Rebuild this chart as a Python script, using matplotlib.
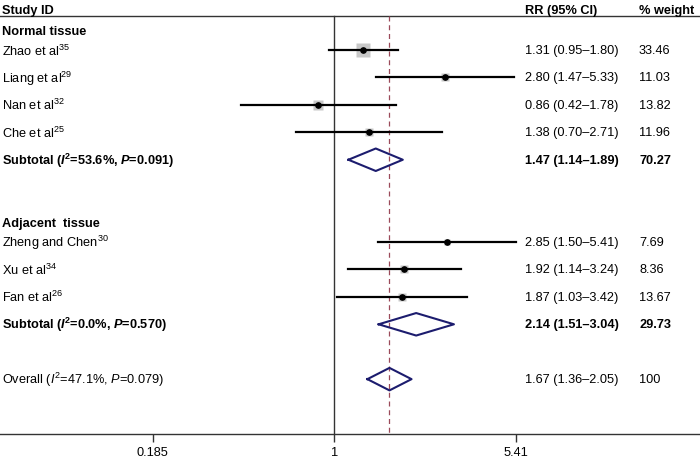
import numpy as np
import matplotlib
matplotlib.use('Agg')
import matplotlib.pyplot as plt
import matplotlib.transforms as mtransforms

plt.rcParams['font.family'] = 'Liberation Sans'
plt.rcParams['font.size'] = 9.2
plt.rcParams['mathtext.fontset'] = 'custom'
plt.rcParams['mathtext.rm'] = 'Liberation Sans'
plt.rcParams['mathtext.it'] = 'Liberation Sans:italic'
plt.rcParams['mathtext.bf'] = 'Liberation Sans:bold'
plt.rcParams['mathtext.bfit'] = 'Liberation Sans:italic:bold'

# Data
studies = ['Zhao et al$^{35}$', 'Liang et al$^{29}$', 'Nan et al$^{32}$', 'Che et al$^{25}$',
           'Zheng and Chen$^{30}$', 'Xu et al$^{34}$', 'Fan et al$^{26}$']
study_rows = [1, 2, 3, 4, 8, 9, 10]
rr = [1.31, 2.80, 0.86, 1.38, 2.85, 1.92, 1.87]
lo = [0.95, 1.47, 0.42, 0.70, 1.50, 1.14, 1.03]
hi = [1.80, 5.33, 1.78, 2.71, 5.41, 3.24, 3.42]
weight = [33.46, 11.03, 13.82, 11.96, 7.69, 8.36, 13.67]

groups = ['Normal tissue', 'Adjacent  tissue']
group_rows = [0.3, 7.3]

pooled_labels = [r'Subtotal ($\mathbfit{I}^{\mathbf{2}}$=53.6%, $\mathbfit{P}$=0.091)',
                 r'Subtotal ($\mathbfit{I}^{\mathbf{2}}$=0.0%, $\mathbfit{P}$=0.570)',
                 r'Overall ($\mathit{I}^{2}$=47.1%, $\mathit{P}$=0.079)']
pooled_rows = [5, 11, 13]
pooled_rr = [1.47, 2.14, 1.67]
pooled_lo = [1.14, 1.51, 1.36]
pooled_hi = [1.89, 3.04, 2.05]
pooled_weight = ['70.27', '29.73', '100']
pooled_bold = [True, True, False]

xticks = [0.185, 1, 5.41]
xticklabels = ['0.185', '1', '5.41']

fig = plt.figure(figsize=(7, 4.6), dpi=100)
ax = fig.add_axes([0, 25 / 460, 1, 435 / 460])
ax.set_xscale('log')
ax.set_xlim(np.exp(-334.3 / 107.6), np.exp((700 - 334.3) / 107.6))
ax.set_ylim(15, -0.861)

for s in ['top', 'left', 'right']:
    ax.spines[s].set_visible(False)
ax.spines['bottom'].set_color('#333333')
ax.spines['bottom'].set_linewidth(1.0)
ax.set_yticks([])
ax.set_xticks(xticks)
ax.set_xticklabels(xticklabels, fontsize=9.2)
ax.xaxis.set_minor_locator(matplotlib.ticker.NullLocator())
ax.tick_params(axis='x', direction='out', length=5.5, width=1.0, color='#333333', pad=3)

top = -0.24
navy = '#1c1c6e'
ax.axhline(top, color='#333333', lw=1.0)
ax.plot([1, 1], [top, 15], color='#333333', lw=1.0)
ax.plot([pooled_rr[2]] * 2, [top, 15], color='#9b4a5a', lw=0.9, dashes=(4, 3))

# study estimates
for r, m, l, h, w in zip(study_rows, rr, lo, hi, weight):
    ax.plot(m, r, marker='s', ms=1.75 * np.sqrt(w), color='#c8c8c8', mec='none', zorder=2)
    ax.plot([l, h], [r, r], color='black', lw=1.6, zorder=3)
    ax.plot(m, r, marker='o', ms=3.8, color='black', zorder=4)

# pooled diamonds
for r, m, l, h in zip(pooled_rows, pooled_rr, pooled_lo, pooled_hi):
    ax.plot([l, m, h, m, l], [r, r - 0.41, r, r + 0.41, r], color=navy, lw=1.5, zorder=4)

# text columns
tr = mtransforms.blended_transform_factory(ax.transAxes, ax.transData)
x_study, x_rr, x_w = 2 / 700, 525 / 700, 639 / 700

ax.text(x_study, -0.47, 'Study ID', transform=tr, fontweight='bold', va='center')
ax.text(x_rr, -0.47, 'RR (95% CI)', transform=tr, fontweight='bold', va='center')
ax.text(x_w, -0.47, '% weight', transform=tr, fontweight='bold', va='center')

for g, r in zip(groups, group_rows):
    ax.text(x_study, r, g, transform=tr, fontweight='bold', va='center')

for s, r, m, l, h, w in zip(studies, study_rows, rr, lo, hi, weight):
    ax.text(x_study, r, s, transform=tr, va='center')
    ax.text(x_rr, r, f'{m:.2f} ({l:.2f}\u2013{h:.2f})', transform=tr, va='center')
    ax.text(x_w, r, f'{w:.2f}', transform=tr, va='center')

for s, r, m, l, h, w, b in zip(pooled_labels, pooled_rows, pooled_rr, pooled_lo,
                               pooled_hi, pooled_weight, pooled_bold):
    fw = 'bold' if b else 'normal'
    ax.text(x_study, r, s, transform=tr, va='center', fontweight=fw)
    ax.text(x_rr, r, f'{m:.2f} ({l:.2f}\u2013{h:.2f})', transform=tr, va='center', fontweight=fw)
    ax.text(x_w, r, w, transform=tr, va='center', fontweight=fw)

plt.savefig('out.png', dpi=100)
